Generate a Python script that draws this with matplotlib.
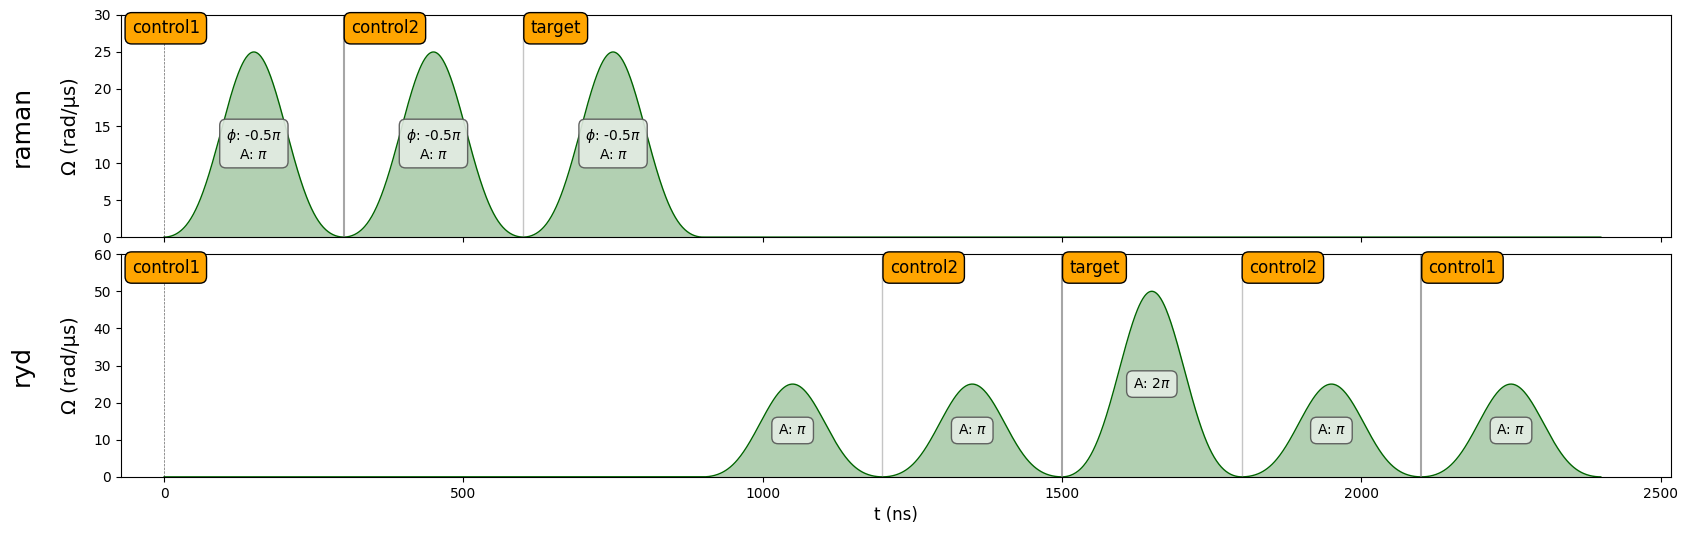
import numpy as np
import matplotlib
matplotlib.use("Agg")
import matplotlib.pyplot as plt

# %% data
total_t = 2400
channels = ["raman", "ryd"]
ylims = [30, 60]

raman_starts = [0, 300, 600]
raman_dur = [300, 300, 300]
raman_amp = [25, 25, 25]
raman_labels = ["$\\phi$: -0.5$\\pi$\nA: $\\pi$"] * 3

ryd_starts = [900, 1200, 1500, 1800, 2100]
ryd_dur = [300, 300, 300, 300, 300]
ryd_amp = [25, 25, 50, 25, 25]
ryd_labels = ["A: $\\pi$", "A: $\\pi$", "A: 2$\\pi$", "A: $\\pi$", "A: $\\pi$"]

raman_targets = [0, 300, 600]
raman_target_names = ["control1", "control2", "target"]
ryd_targets = [0, 1200, 1500, 1800, 2100]
ryd_target_names = ["control1", "control2", "target", "control2", "control1"]
dark_targets = [300, 1500, 2100]


def waveform(starts, durs, amps):
    t = np.arange(total_t + 1)
    y = np.zeros_like(t, dtype=float)
    for s, d, a in zip(starts, durs, amps):
        y[s:s + d + 1] = a * np.blackman(d + 1)
    return t, y


# %% plot
fig = plt.figure(figsize=(16.92, 5.34), dpi=100)
ax1 = fig.add_axes([0.0715, 0.556, 0.916, 0.416])
ax2 = fig.add_axes([0.0715, 0.107, 0.916, 0.417])

tgt_box = dict(boxstyle="round,pad=0.4", facecolor="orange", edgecolor="black")
lbl_box = dict(boxstyle="round,pad=0.45", facecolor="#e4ece4", edgecolor="#555555", alpha=0.9)

setups = [
    (ax1, raman_starts, raman_dur, raman_amp, raman_labels, raman_targets, raman_target_names),
    (ax2, ryd_starts, ryd_dur, ryd_amp, ryd_labels, ryd_targets, ryd_target_names),
]
for i, (ax, st, du, am, lb, tg, tn) in enumerate(setups):
    t, y = waveform(st, du, am)
    ax.plot(t, y, color="darkgreen", lw=1)
    ax.fill_between(t, 0, y, color="darkgreen", alpha=0.3, lw=0)
    top = ylims[i]
    ax.set_ylim(0, top)
    ax.set_xlim(-72, 2517)
    for s, d, a, l in zip(st, du, am, lb):
        ax.text(s + d / 2, a / 2, l, ha="center", va="center", fontsize=10, bbox=lbl_box)
    for t0, name in zip(tg, tn):
        if t0 == 0:
            ax.axvline(t0, ls="--", lw=0.5, color="black", alpha=0.6)
            ax.text(-54, 0.94 * top, name, ha="left", va="center", fontsize=12, bbox=tgt_box)
        else:
            if t0 in dark_targets:
                ax.axvline(t0, lw=1.5, color="gray", alpha=0.7)
            else:
                ax.axvline(t0, lw=1, color="gray", alpha=0.45)
            ax.text(t0 + 12, 0.94 * top, name, ha="left", va="center", fontsize=12, bbox=tgt_box)
    ax.set_ylabel("Ω (rad/µs)", fontsize=14, labelpad=10)
    ax.set_xticks([0, 500, 1000, 1500, 2000, 2500])

ax1.tick_params(labelbottom=False)
ax2.set_xlabel("t (ns)", fontsize=12)

fig.text(0.013, 0.764, "raman", rotation=90, fontsize=18, ha="center", va="center")
fig.text(0.013, 0.315, "ryd", rotation=90, fontsize=18, ha="center", va="center")

plt.savefig("out.png", dpi=100)
